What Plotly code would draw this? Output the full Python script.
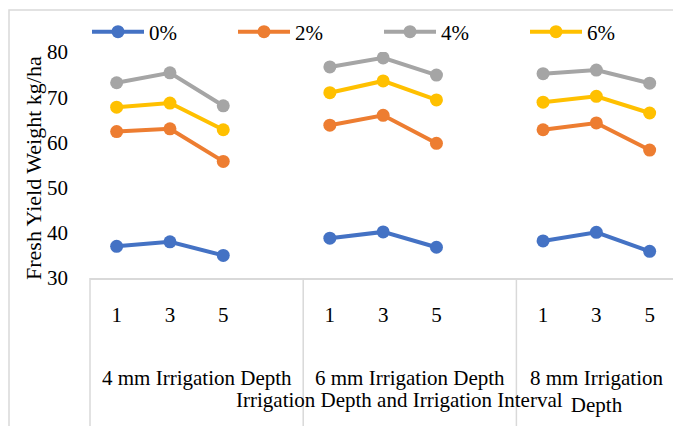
import plotly.graph_objects as go

intervals = ["1", "3", "5"]
groups = ["4 mm Irrigation Depth", "6 mm Irrigation Depth", "8 mm Irrigation<br>Depth"]
series_names = ["0%", "2%", "4%", "6%"]
s0 = [37.0, 38.0, 35.0, 38.8, 40.2, 36.8, 38.2, 40.1, 35.9]
s2 = [62.4, 63.0, 55.8, 63.8, 66.0, 59.8, 62.8, 64.3, 58.3]
s4 = [73.2, 75.4, 68.1, 76.7, 78.7, 74.9, 75.2, 76.0, 73.1]
s6 = [67.8, 68.7, 62.8, 71.0, 73.6, 69.4, 68.9, 70.2, 66.5]
colors = ["#4472C4", "#ED7D31", "#A5A5A5", "#FFC000"]
y_ticks = [30, 40, 50, 60, 70, 80]
x_title = "Irrigation Depth and Irrigation Interval"
y_title = "Fresh Yield Weight kg/ha"

FONT = "Liberation Serif"
FS = 21
W, H = 673, 426
ML, MR, MT, MB = 90, 0, 52, 148
slots = 4  # slots per group (3 intervals + 1 gap)

xs, tickvals, ticktext = [], [], []
for g in range(len(groups)):
    for i, lab in enumerate(intervals):
        xs.append(g * slots + i)
        tickvals.append(g * slots + i)
        ticktext.append(lab)

def broken(vals):
    X, Y = [], []
    k = 0
    for g in range(len(groups)):
        for i in range(len(intervals)):
            X.append(xs[k]); Y.append(vals[k]); k += 1
        X.append(None); Y.append(None)
    return X, Y

fig = go.Figure()
for name, vals, c in zip(series_names, [s0, s2, s4, s6], colors):
    X, Y = broken(vals)
    fig.add_trace(go.Scatter(x=X, y=Y, name=name, mode="lines+markers",
                             line=dict(color=c, width=4),
                             marker=dict(color=c, size=13),
                             connectgaps=False))

plot_w = W - ML - MR
plot_h = H - MT - MB
x0 = -0.5
unit = 53.3
x1 = x0 + plot_w / unit

def px2paper_x(px):
    return (px - ML) / plot_w

def px2paper_y(py):
    return (H - MB - py) / plot_h

def data2paper_x(v):
    return (v - x0) / (x1 - x0)

shapes = []
shapes.append(dict(type="rect", xref="paper", yref="paper",
                   x0=px2paper_x(9), x1=px2paper_x(W + 20),
                   y0=px2paper_y(H + 20), y1=px2paper_y(10),
                   line=dict(color="#D9D9D9", width=1.5), layer="below"))
for g in range(len(groups)):
    xv = data2paper_x(g * slots - 0.5)
    shapes.append(dict(type="line", xref="paper", yref="paper",
                       x0=xv, x1=xv, y0=0, y1=px2paper_y(H + 10),
                       line=dict(color="#D9D9D9", width=1.5)))

annotations = []
centers = [1.5, 5.5, 9.0]
for g, lab in enumerate(groups):
    annotations.append(dict(x=centers[g], xref="x", y=px2paper_y(364), yref="paper",
                            text=lab, showarrow=False, xanchor="center", yanchor="top",
                            font=dict(family=FONT, size=FS, color="black")))
annotations.append(dict(x=px2paper_x(399), xref="paper", y=px2paper_y(400), yref="paper",
                        text=x_title, showarrow=False, xanchor="center", yanchor="middle",
                        font=dict(family=FONT, size=FS, color="black")))
annotations.append(dict(x=px2paper_x(33), xref="paper", y=px2paper_y(168), yref="paper",
                        text=y_title, showarrow=False, textangle=-90,
                        xanchor="center", yanchor="middle",
                        font=dict(family=FONT, size=22, color="black")))

fig.update_layout(
    width=W, height=H,
    margin=dict(l=ML, r=MR, t=MT, b=MB, autoexpand=False),
    paper_bgcolor="white", plot_bgcolor="white",
    font=dict(family=FONT, size=FS, color="black"),
    showlegend=True,
    legend=dict(orientation="h", x=px2paper_x(671), y=px2paper_y(32),
                xanchor="right", yanchor="middle",
                itemwidth=52,
                entrywidth=79, entrywidthmode="pixels",
                font=dict(family=FONT, size=FS, color="black"),
                bgcolor="rgba(0,0,0,0)"),
    xaxis=dict(range=[x0, x1], tickmode="array", tickvals=tickvals, ticktext=ticktext,
               showgrid=False, zeroline=False, showline=True, linecolor="#D9D9D9",
               linewidth=1.5, ticks="", ticklabelstandoff=17,
               tickfont=dict(family=FONT, size=FS, color="black")),
    yaxis=dict(range=[30, 80], tickmode="array", tickvals=y_ticks,
               showgrid=False, zeroline=False, showline=False, ticks="",
               ticklabelstandoff=21,
               tickfont=dict(family=FONT, size=FS, color="black")),
    shapes=shapes, annotations=annotations,
)

fig.write_html("out.html")
